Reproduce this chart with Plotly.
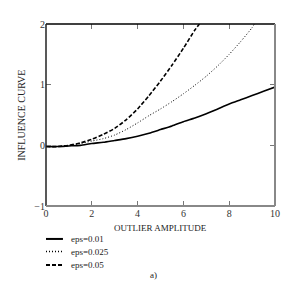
import plotly.graph_objects as go

series_names = ["eps=0.01", "eps=0.025", "eps=0.05"]
x_001 = [0, 0.5, 1, 1.5, 2, 2.5, 3, 3.5, 4, 4.5, 5, 5.5, 6, 6.5, 7, 7.5, 8, 8.5, 9, 9.5, 10]
y_001 = [-0.02, -0.02, -0.01, 0.0, 0.03, 0.05, 0.08, 0.11, 0.15, 0.2, 0.26, 0.32, 0.39, 0.45, 0.52, 0.6, 0.68, 0.75, 0.82, 0.89, 0.96]
x_0025 = [0, 0.5, 1, 1.5, 2, 2.5, 3, 3.5, 4, 4.5, 5, 5.5, 6, 6.5, 7, 7.5, 8, 8.5, 9, 9.1]
y_0025 = [-0.02, -0.02, 0.0, 0.03, 0.07, 0.11, 0.17, 0.26, 0.37, 0.49, 0.6, 0.72, 0.85, 0.99, 1.14, 1.31, 1.5, 1.71, 1.94, 2.0]
x_005 = [0, 0.5, 1, 1.5, 2, 2.5, 3, 3.5, 4, 4.5, 5, 5.5, 6, 6.5, 6.7]
y_005 = [-0.02, -0.02, 0.0, 0.04, 0.1, 0.18, 0.28, 0.42, 0.6, 0.82, 1.06, 1.32, 1.6, 1.9, 2.0]
dashes = ["solid", "1px,2px", "4px,2px"]
widths = [1.6, 1, 1.6]

xs = [x_001, x_0025, x_005]
ys = [y_001, y_0025, y_005]

FONT = "Liberation Serif"
fig = go.Figure()
for name, x, y, d, w in zip(series_names, xs, ys, dashes, widths):
    fig.add_trace(go.Scatter(x=x, y=y, mode="lines", name=name, line_shape="spline",
                             line=dict(color="black", width=w, dash=d, smoothing=0.6), showlegend=False))

axis_common = dict(ticks="inside", ticklen=5, tickcolor="#777", tickwidth=1,
                   showgrid=False, zeroline=False, showline=False, mirror="ticks",
                   tickfont=dict(family=FONT, size=10, color="#333"))
fig.update_xaxes(range=[0, 10], tickvals=[0, 2, 4, 6, 8, 10], **axis_common)
fig.update_yaxes(range=[-1, 2], tickvals=[-1, 0, 1, 2], **axis_common)

shapes = [
    dict(type="line", xref="paper", yref="paper", x0=0, x1=1, y0=1, y1=1, line=dict(color="black", width=1.5)),
    dict(type="line", xref="paper", yref="paper", x0=0, x1=0, y0=0, y1=1, line=dict(color="#222", width=1.5)),
    dict(type="line", xref="paper", yref="paper", x0=1, x1=1, y0=0, y1=1, line=dict(color="#888", width=2)),
    dict(type="line", xref="paper", yref="paper", x0=0, x1=1, y0=0, y1=0, line=dict(color="#888", width=2)),
]
annotations = [
    dict(text="OUTLIER AMPLITUDE", xref="paper", yref="paper", x=0.5, y=-0.12, showarrow=False,
         font=dict(family=FONT, size=9, color="#222"), xanchor="center", yanchor="middle"),
    dict(text="INFLUENCE CURVE", xref="paper", yref="paper", x=-0.11, y=0.5, showarrow=False,
         textangle=-90, font=dict(family=FONT, size=10, color="#222"), xanchor="center", yanchor="middle"),
    dict(text="a)", xref="paper", yref="paper", x=0.47, y=-0.378, showarrow=False,
         font=dict(family=FONT, size=9, color="#222"), xanchor="center", yanchor="middle"),
]
leg_y = [-0.181, -0.25, -0.324]
for name, d, w, ly in zip(series_names, dashes, widths, leg_y):
    shapes.append(dict(type="line", xref="paper", yref="paper", x0=0, x1=0.074, y0=ly, y1=ly,
                       line=dict(color="black", width=w + 0.4, dash=d)))
    annotations.append(dict(text=name, xref="paper", yref="paper", x=0.1, y=ly, showarrow=False,
                            font=dict(family=FONT, size=9, color="#222"), xanchor="left", yanchor="middle"))

fig.update_layout(width=300, height=300, margin=dict(l=38, r=33, t=10, b=102),
                  plot_bgcolor="white", paper_bgcolor="white",
                  shapes=shapes, annotations=annotations)
fig.write_html("out.html")
